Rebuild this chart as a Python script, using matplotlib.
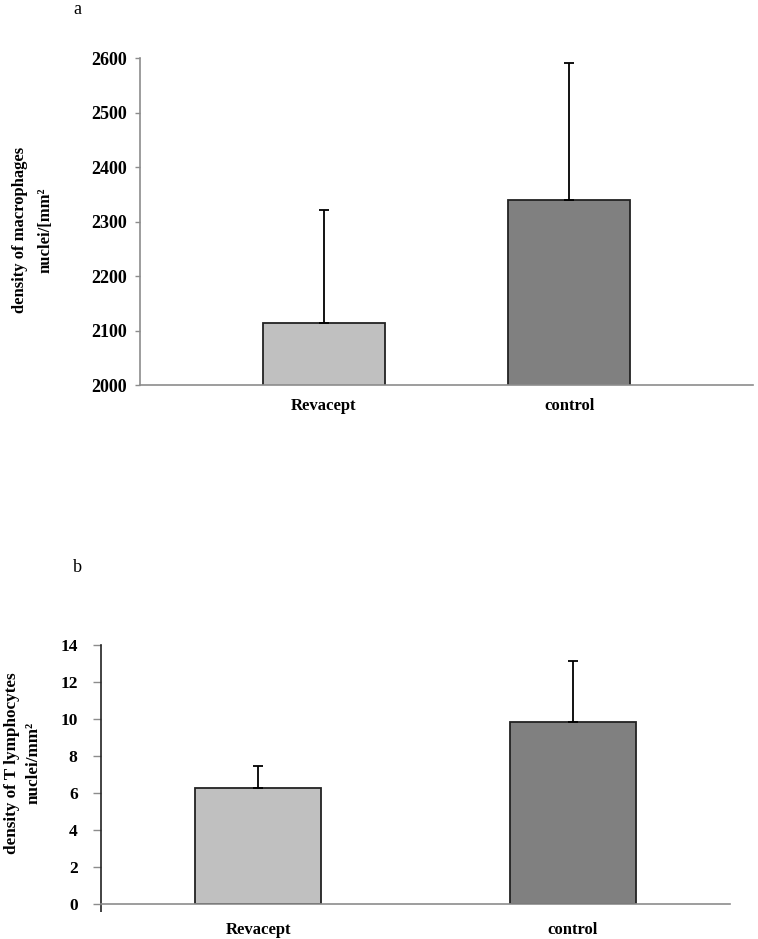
import numpy as np
import matplotlib
matplotlib.use("Agg")
import matplotlib.pyplot as plt

# date
groups = ["Revacept", "control"]
colors = ["#c0c0c0", "#808080"]

macro_mean = [2114, 2339]
macro_err = [208, 252]

tlym_mean = [6.27, 9.85]
tlym_err = [1.18, 3.26]

plt.rcParams["font.family"] = ["Liberation Serif", "DejaVu Serif"]

fig = plt.figure(figsize=(7.58, 9.39), dpi=100)

ax1 = fig.add_axes([140/758, 1-385/939, 613/758, 327/939])
ax2 = fig.add_axes([101/758, 1-904/939, 629/758, 259/939])


def bare_axes(ax, left_col, ysize, tick_len, tick_pad):
    for s in ["top", "right"]:
        ax.spines[s].set_visible(False)
    ax.spines["bottom"].set_color("#8c8c8c")
    ax.spines["left"].set_color(left_col)
    ax.spines["bottom"].set_linewidth(1.2)
    ax.spines["left"].set_linewidth(1.2)
    ax.tick_params(axis="y", colors="#8c8c8c", length=tick_len, width=1, labelcolor="black",
                   labelsize=ysize, pad=tick_pad)
    ax.tick_params(axis="x", length=0, labelsize=12)
    for lab in ax.get_xticklabels() + ax.get_yticklabels():
        lab.set_fontweight("bold")


# panel a
x = np.arange(len(groups))
ax1.bar(x, macro_mean, width=0.5, color=colors, edgecolor="#222222", linewidth=1.3,
        yerr=[[0, 0], macro_err], error_kw=dict(ecolor="black", elinewidth=1.3,
                                               capsize=3.5, capthick=1.3))
ax1.set_xlim(-0.75, 1.75)
ax1.set_ylim(2000, 2600)
ax1.set_yticks(np.arange(2000, 2601, 100))
ax1.set_xticks(x)
ax1.set_xticklabels(groups)
bare_axes(ax1, "#8c8c8c", 13, 3.6, 5.5)
ax1.tick_params(axis="x", pad=9)
fig.text(33/758, 1-230/939, "density of macrophages\nnuclei/[mm²", fontsize=12,
         fontweight="bold", rotation=90, ha="center", va="center",
         multialignment="center", linespacing=1.75)
fig.text(77/758, 1-10/939, "a", fontsize=13, ha="center", va="center")

# panel b
ax2.bar(x, tlym_mean, width=0.4, color=colors, edgecolor="#222222", linewidth=1.3,
        yerr=[[0, 0], tlym_err], error_kw=dict(ecolor="black", elinewidth=1.3,
                                              capsize=3.5, capthick=1.3))
ax2.set_xlim(-0.5, 1.5)
ax2.set_ylim(0, 14)
ax2.set_yticks(np.arange(0, 15, 2))
ax2.set_xticks(x)
ax2.set_xticklabels(groups)
bare_axes(ax2, "#222222", 12.5, 5.8, 11)
ax2.set_xticks([-0.5], minor=True)
ax2.tick_params(axis="x", which="minor", length=6, color="#222222", width=1.2)
ax2.tick_params(axis="x", which="major", pad=13)
fig.text(23/758, 1-763/939, "density of T lymphocytes\nnuclei/mm²", fontsize=12.3,
         fontweight="bold", rotation=90, ha="center", va="center",
         multialignment="center", linespacing=1.5)
fig.text(77/758, 1-567/939, "b", fontsize=13, ha="center", va="center")

fig.savefig("out.png", dpi=100)
